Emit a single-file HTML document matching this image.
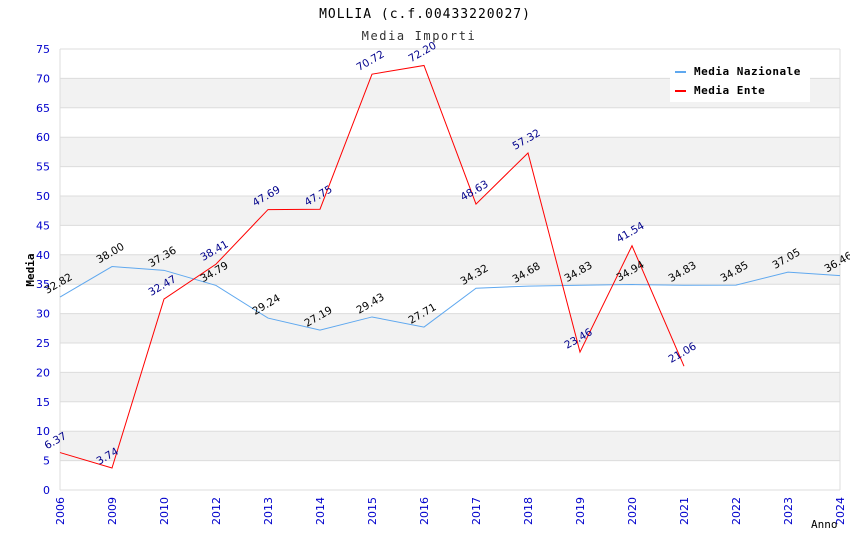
<!DOCTYPE html>
<html><head><meta charset="utf-8"><style>
body{margin:0;background:#fff}
svg{display:block}
</style></head><body>
<svg id="chart" width="850" height="550" xmlns="http://www.w3.org/2000/svg" font-family="'DejaVu Sans', sans-serif">
<text x="425" y="18" text-anchor="middle" font-family="'DejaVu Sans Mono', monospace" font-size="13" letter-spacing="1" fill="#000">MOLLIA (c.f.00433220027)</text>
<text x="419" y="40" text-anchor="middle" font-family="'DejaVu Sans Mono', monospace" font-size="12" letter-spacing="1.6" fill="#333">Media Importi</text>
<g id="bands"></g>
<g id="grid"></g>
<g id="axes"></g>
<g id="series"></g>
<g id="labels"></g>
<text transform="translate(34,270) rotate(-90)" text-anchor="middle" font-family="'DejaVu Sans Mono', monospace" font-size="11" font-weight="bold" fill="#000">Media</text>
<text x="811" y="528" font-family="'DejaVu Sans Mono', monospace" font-size="11" fill="#000">Anno</text>
<g>
<rect x="670" y="59" width="140" height="43" fill="#fff"/>
<line x1="675" y1="72" x2="686" y2="72" stroke="#5fa8ef" stroke-width="2"/>
<text x="694" y="75" font-family="'DejaVu Sans Mono', monospace" font-size="11" font-weight="bold" letter-spacing="0.5">Media Nazionale</text>
<line x1="675" y1="91" x2="686" y2="91" stroke="#f00" stroke-width="2"/>
<text x="694" y="94" font-family="'DejaVu Sans Mono', monospace" font-size="11" font-weight="bold" letter-spacing="0.5">Media Ente</text>
</g>
</svg>
<script>
const categories=["2006","2009","2010","2012","2013","2014","2015","2016","2017","2018","2019","2020","2021","2022","2023","2024"];
const nazionale=[32.82,38.00,37.36,34.79,29.24,27.19,29.43,27.71,34.32,34.68,34.83,34.94,34.83,34.85,37.05,36.46];
const ente=[6.37,3.74,32.47,38.41,47.69,47.75,70.72,72.20,48.63,57.32,23.46,41.54,21.06];
const yTicks=[0,5,10,15,20,25,30,35,40,45,50,55,60,65,70,75];
const NS='http://www.w3.org/2000/svg';
const L=60,R=840,T=49,B=490,yMax=75;
const xs=i=>L+i*(R-L)/(categories.length-1);
const ys=v=>B-v*(B-T)/yMax;
function mk(tag,attrs,parent){const e=document.createElementNS(NS,tag);for(const k in attrs)e.setAttribute(k,attrs[k]);document.getElementById(parent).appendChild(e);return e;}
for(let i=0;i<yTicks.length-1;i++){
  if(i%2===1){const r=mk('rect',{x:L,y:ys(yTicks[i+1]),width:R-L,height:ys(yTicks[i])-ys(yTicks[i+1]),fill:'#f2f2f2'},'bands');
  
  }
}
yTicks.forEach(t=>{
  const l=mk('line',{x1:L,x2:R,y1:ys(t),y2:ys(t),stroke:'#dcdcdc','stroke-width':1},'grid');
  
  
  const tx=mk('text',{x:L-10,y:ys(t)+4,'text-anchor':'end','font-size':11,fill:'#00c'},'axes');
  tx.textContent=t;
  
  
});
[L,R].forEach(x=>{const l=mk('line',{x1:x,x2:x,y1:T,y2:B,stroke:'#dcdcdc'},'axes');

});
categories.forEach((c,i)=>{
  const x=xs(i);
  const t=mk('text',{transform:`translate(${x+4},${B+7}) rotate(-90)`,'text-anchor':'end','font-size':11,fill:'#00c'},'axes');
  t.textContent=c;
  
  
});
function series(vals,color,lblColor,name){
  const pts=vals.map((v,i)=>xs(i)+','+ys(v)).join(' ');
  const p=mk('polyline',{points:pts,fill:'none',stroke:color,'stroke-width':1},'series');
  
  
  vals.forEach((v,i)=>{
    const t=mk('text',{transform:`translate(${xs(i)-13},${ys(v)-3}) rotate(-30)`,'font-size':10.5,fill:lblColor},'labels');
    t.textContent=v.toFixed(2);
    
    
  });
}
series(nazionale,'#5fa8ef','#000','nazionale');
series(ente,'#f00','#00008b','ente');
</script>
</body></html>
